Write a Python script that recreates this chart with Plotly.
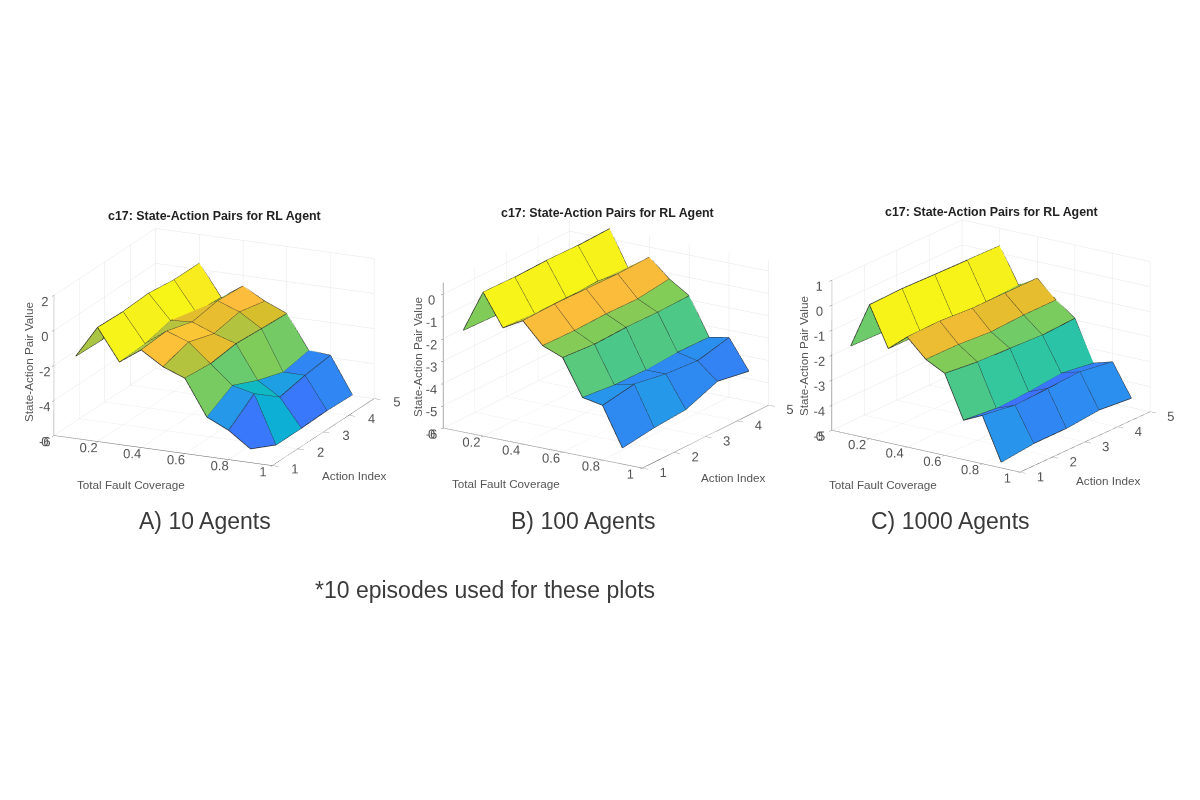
import plotly.graph_objects as go

# grid of the surfaces (same for all three runs)
coverage = [0.1, 0.2, 0.3, 0.4, 0.5, 0.6, 0.7, 0.8, 0.9]
action_index = [1, 2, 3, 4, 5]

# state-action values, one row per coverage value, one column per action index
q_10_agents = [
    [-1.30, -1.35, -1.30, -1.35, -1.40],
    [0.52, 0.46, 0.55, 0.36, 0.36],
    [-1.29, -1.20, -0.83, -1.32, -1.43],
    [-0.43, -0.31, -0.75, -0.50, -0.60],
    [-1.22, -0.77, -1.24, -0.96, -1.30],
    [-1.70, -1.83, -1.64, -1.74, -1.83],
    [-3.74, -2.90, -3.57, -4.05, -3.76],
    [-4.33, -3.20, -4.35, -4.06, -3.87],
    [-5.22, -5.95, -5.95, -5.90, -5.95],
]
q_100_agents = [
    [-1.45, -1.50, -1.50, -1.50, -1.50],
    [0.44, 0.41, 0.45, 0.42, 0.47],
    [-0.98, -1.05, -1.04, -1.00, -1.25],
    [-0.48, -0.44, -0.47, -0.50, -0.45],
    [-1.42, -1.45, -1.41, -1.44, -1.25],
    [-1.77, -1.88, -1.83, -1.86, -1.82],
    [-3.38, -3.53, -3.56, -3.47, -3.50],
    [-3.55, -3.31, -3.56, -3.67, -3.33],
    [-5.28, -5.08, -4.97, -4.41, -4.66],
]
q_1000_agents = [
    [-1.46, -1.50, -1.50, -1.50, -1.50],
    [0.36, 0.40, 0.36, 0.33, 0.30],
    [-1.23, -1.23, -1.23, -1.17, -1.10],
    [-0.60, -0.57, -0.66, -0.66, -0.66],
    [-1.33, -1.34, -1.44, -1.37, -1.37],
    [-1.72, -1.87, -1.93, -2.00, -1.93],
    [-3.43, -3.56, -3.50, -3.36, -3.56],
    [-3.07, -3.27, -3.20, -3.14, -3.34],
    [-4.77, -4.63, -4.63, -4.50, -4.63],
]

x_ticks = [0, 0.2, 0.4, 0.6, 0.8, 1]
x_tick_text = ['0', '0.2', '0.4', '0.6', '0.8', '1']
z_ticks_a = [-6, -4, -2, 0, 2]
z_ticks_b = [-6, -5, -4, -3, -2, -1, 0]
z_ticks_c = [-5, -4, -3, -2, -1, 0, 1]

captions = ['A) 10 Agents', 'B) 100 Agents', 'C) 1000 Agents']
plot_title = 'c17: State-Action Pairs for RL Agent'

# MATLAB parula
PARULA = [
    [0.000, 'rgb(62,38,168)'], [0.111, 'rgb(71,71,235)'], [0.222, 'rgb(62,111,255)'],
    [0.333, 'rgb(39,150,235)'], [0.444, 'rgb(8,181,208)'], [0.556, 'rgb(49,198,159)'],
    [0.667, 'rgb(129,204,89)'], [0.778, 'rgb(220,189,41)'], [0.841, 'rgb(252,188,60)'],
    [0.889, 'rgb(250,205,48)'], [1.000, 'rgb(247,245,24)'],
]

# the page body has an 8px margin, so the figure starts at (8, 8) on screen
OFF = 8


def surf_traces(zgrid, scene):
    """faceted surface like matlab surf(): one flat colour per cell + black edges"""
    nx, ny = len(coverage), len(action_index)
    xs, ys, zs = [], [], []
    for a in range(nx):
        for b in range(ny):
            xs.append(coverage[a])
            ys.append(action_index[b])
            zs.append(zgrid[a][b])
    ti, tj, tk, cell = [], [], [], []
    for a in range(nx - 1):
        for b in range(ny - 1):
            p0 = a * ny + b
            p1 = (a + 1) * ny + b
            p2 = (a + 1) * ny + b + 1
            p3 = a * ny + b + 1
            ti += [p0, p0]
            tj += [p1, p2]
            tk += [p2, p3]
            cell += [zgrid[a][b]] * 2
    flat = [v for row in zgrid for v in row]
    mesh = go.Mesh3d(
        x=xs, y=ys, z=zs, i=ti, j=tj, k=tk,
        intensity=cell, intensitymode='cell',
        colorscale=PARULA, cmin=min(flat), cmax=max(flat), showscale=False,
        flatshading=True,
        lighting=dict(ambient=1.0, diffuse=0.0, specular=0.0, roughness=1.0, fresnel=0.0),
        hoverinfo='skip', scene=scene,
    )
    ex, ey, ez = [], [], []
    for a in range(nx):
        for b in range(ny):
            ex.append(coverage[a]); ey.append(action_index[b]); ez.append(zgrid[a][b])
        ex.append(None); ey.append(None); ez.append(None)
    for b in range(ny):
        for a in range(nx):
            ex.append(coverage[a]); ey.append(action_index[b]); ez.append(zgrid[a][b])
        ex.append(None); ey.append(None); ez.append(None)
    edges = go.Scatter3d(
        x=ex, y=ey, z=ez, mode='lines',
        line=dict(color='#2a2a2a', width=1.5),
        hoverinfo='skip', showlegend=False, scene=scene,
    )
    return [mesh, edges]


fig = go.Figure()
for tr in surf_traces(q_10_agents, 'scene'):
    fig.add_trace(tr)
for tr in surf_traces(q_100_agents, 'scene2'):
    fig.add_trace(tr)
for tr in surf_traces(q_1000_agents, 'scene3'):
    fig.add_trace(tr)


def axis_style(**kw):
    d = dict(
        showbackground=False, showgrid=True, gridcolor='#e6e6e6', gridwidth=1,
        showline=True, linecolor='#777777', linewidth=1.2,
        zeroline=False, showspikes=False,
        ticks='outside', ticklen=4, tickcolor='#777777', tickangle=0,
        tickfont=dict(family='Liberation Sans, Arial, sans-serif', size=12.5, color='#555555'),
        title=dict(text=''),
    )
    d.update(kw)
    return d


def dom(p0, p1, size):
    return [(p0 - OFF) / size, (p1 - OFF) / size]


def scene_layout(cx, cy, zrange, zticks, eye, aspect):
    # domain centred on the screen point (cx, cy) where the box centre should land
    w, h = 384, 352
    return dict(
        domain=dict(x=dom(cx - w / 2, cx + w / 2, 1200),
                    y=[1 - v for v in dom(cy + h / 2, cy - h / 2, 800)]),
        xaxis=axis_style(range=[0, 1], tickvals=x_ticks, ticktext=x_tick_text, ticklen=7),
        yaxis=axis_style(range=[1, 5], tickvals=action_index,
                         ticktext=[str(v) for v in action_index]),
        zaxis=axis_style(range=zrange, tickvals=zticks,
                         ticktext=[str(v) for v in zticks]),
        aspectmode='manual',
        aspectratio=dict(x=aspect[0], y=aspect[1], z=aspect[2]),
        camera=dict(eye=eye, up=dict(x=0, y=0, z=1), center=dict(x=0, y=0, z=0),
                    projection=dict(type='orthographic')),
        bgcolor='white',
    )


def eye_vec(d, ex, ey, ez):
    return dict(x=d * ex, y=d * ey, z=d * ez)


fig.update_layout(
    width=1200, height=800,
    paper_bgcolor='white', plot_bgcolor='white',
    margin=dict(l=0, r=0, t=0, b=0),
    showlegend=False,
    scene=scene_layout(214, 347, [-6, 2], z_ticks_a,
                       eye_vec(1.8, 0.397, -0.867, 0.301), (1.365, 1.39, 0.835)),
    scene2=scene_layout(606, 344, [-6, 0.5], z_ticks_b,
                        eye_vec(1.8, 0.509, -0.801, 0.316), (1.34, 1.34, 0.87)),
    scene3=scene_layout(991, 346, [-5, 1], z_ticks_c,
                        eye_vec(1.8, 0.539, -0.779, 0.321), (1.30, 1.30, 0.90)),
)

label_font = dict(family='Liberation Sans, Arial, sans-serif', size=11.7, color='#555555')
title_font = dict(family='Liberation Sans, Arial, sans-serif', size=12.4, color='#222222')
caption_font = dict(family='Liberation Sans, Arial, sans-serif', size=23, color='#3a3a3a')


def add_text(px, py, text, font, angle=0):
    fig.add_annotation(x=(px - OFF) / 1200, y=1 - (py - OFF) / 800,
                       xref='paper', yref='paper',
                       text=text, showarrow=False, font=font, textangle=angle,
                       xanchor='center', yanchor='middle')


# per panel: title, axis titles
title_pos = [(215, 216), (607, 213), (992, 212)]
xlab_pos = [(131, 485), (506, 483), (883, 485)]
ylab_pos = [(354, 475), (733, 477), (1108, 480)]
zlab_pos = [(28, 362), (417, 357), (803, 356)]
caption_pos = [(205, 521), (583, 521), (950, 521)]

for n in range(3):
    add_text(*title_pos[n], '<b>' + plot_title + '</b>', title_font)
    add_text(*xlab_pos[n], 'Total Fault Coverage', label_font)
    add_text(*ylab_pos[n], 'Action Index', label_font)
    add_text(*zlab_pos[n], 'State-Action Pair Value', label_font, angle=-90)
    add_text(*caption_pos[n], captions[n], caption_font)

add_text(485, 590, '*10 episodes used for these plots', caption_font)

fig.write_html("out.html")
